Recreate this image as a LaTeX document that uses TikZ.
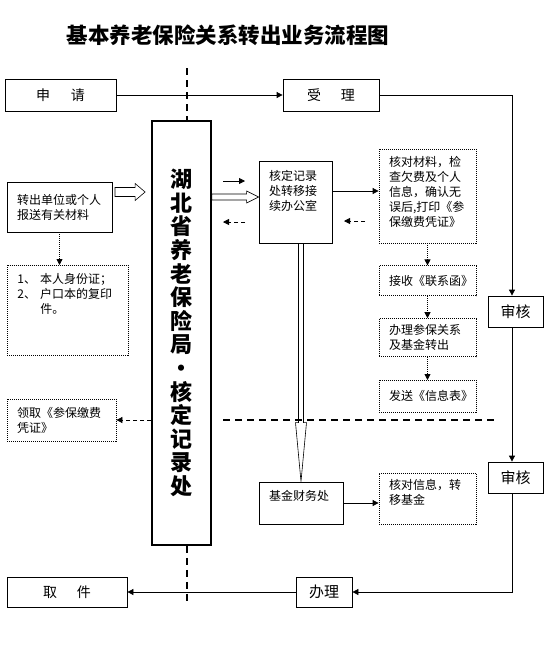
\documentclass[tikz,border=0pt]{standalone}
\usepackage{fontspec}
\setmainfont{Noto Sans CJK SC}
\usetikzlibrary{arrows.meta, positioning, calc}

% hollow block arrows: tail, tip, shaft half width, head half width, head length
\newcommand{\hollowright}[5]{%
  \draw[hollow] ($#1+(0,#3)$) -- ($#2+(-#5,#3)$) -- ($#2+(-#5,#4)$) -- #2
    -- ($#2+(-#5,-#4)$) -- ($#2+(-#5,-#3)$) -- ($#1+(0,-#3)$) -- cycle;}
\newcommand{\hollowdown}[5]{%
  \draw[hollow] ($#1+(#3,0)$) -- ($#2+(#3,-#5)$) -- ($#2+(#4,-#5)$) -- #2
    -- ($#2+(-#4,-#5)$) -- ($#2+(-#3,-#5)$) -- ($#1+(-#3,0)$) -- cycle;}

\begin{document}
\begin{tikzpicture}[x=1pt, y=-1pt,
        box/.style={draw, line width=0.8pt, font=\fontsize{12}{15}\selectfont, align=left, inner xsep=10pt, inner ysep=0pt},
        dotbox/.style={box, dash pattern=on 1pt off 1pt},
        tag/.style={draw, line width=0.8pt, align=center, inner sep=0pt},
        arrow/.style={-{Triangle[length=6pt, width=6pt]}, line width=0.8pt},
        dasharrow/.style={arrow, dash pattern=on 4pt off 3pt},
        dotarrow/.style={arrow, dash pattern=on 1pt off 1pt},
        sep/.style={line width=1.8pt, dash pattern=on 7pt off 5pt},
        hollow/.style={line width=0.6pt}
    ]
    \useasboundingbox (0,0) rectangle (553,649);

    \node[font=\fontsize{21.5}{25}\selectfont\bfseries] (title) at (228,35) {基本养老保险关系转出业务流程图};

    % top and bottom row
    \node[tag, minimum width=111pt, minimum height=32pt, font=\fontsize{14}{16}\selectfont] (apply) at (60.5,95) {申\hspace{1.5em}请};
    \node[tag, minimum width=96pt, minimum height=32pt, font=\fontsize{14}{16}\selectfont] (accept) at (331,95) {受\hspace{1.4em}理};
    \node[tag, minimum width=120pt, minimum height=30pt, font=\fontsize{14}{16}\selectfont] (pickup) at (67,592) {取\hspace{1.4em}件};
    \node[tag, minimum width=56pt, minimum height=30pt, font=\fontsize{15}{17}\selectfont] (handle) at (324,592) {办理};

    % bureau
    \node[draw, line width=1.8pt, minimum width=59pt, minimum height=424pt, align=center, inner sep=0pt,
        font=\fontsize{22}{23.6}\selectfont\bfseries] (bureau) at (181.5,333)
        {湖\\北\\省\\养\\老\\保\\险\\局\\·\\核\\定\\记\\录\\处};

    % left column
    \node[box, text width=85pt, minimum height=50pt] (submit) at (59.5,207) {转出单位或个人\\报送有关材料};
    \node[dotbox, anchor=north west, inner ysep=8pt] (papers) at (7,265)
        {\parbox[c][74pt][t]{101pt}{1、\hspace{4pt}本人身份证；\\2、\hspace{4pt}户口本的复印\\\hspace*{23pt}件。}};
    \node[dotbox, text width=89pt, minimum height=42pt] (receipt) at (61.5,420) {领取《参保缴费\\凭证》};

    % middle column
    \node[box, inner ysep=9pt] (office) at (295.5,202) {\parbox[c][64pt][t]{53pt}{核定记录\\处转移接\\续办公室}};
    \node[box, inner ysep=8pt] (finance) at (301,503) {\parbox[c][26pt][t]{64pt}{基金财务处}};

    % right column
    \node[dotbox, inner ysep=7pt] (check) at (427.5,196)
        {\parbox[c][80pt][t]{77pt}{核对材料，检\\查欠费及个人\\信息，确认无\\误后,打印《参\\保缴费凭证》}};
    \node[dotbox, text width=77pt, minimum height=30pt, below=22pt of check] (letter) {接收《联系函》};
    \node[dotbox, text width=77pt, minimum height=38pt, below=22pt of letter] (transfer) {办理参保关系\\及基金转出};
    \node[dotbox, text width=77pt, minimum height=32pt, below=23pt of transfer] (sendout) {发送《信息表》};
    \node[dotbox, inner ysep=6pt] (verify) at (427.5,498.5) {\parbox[c][39pt][t]{77pt}{核对信息，转\\移基金}};

    \node[tag, minimum width=55pt, minimum height=31pt, font=\fontsize{15}{17}\selectfont] (audit1) at (515.5,311.5) {审核};
    \node[tag, minimum width=55pt, minimum height=31pt, font=\fontsize{15}{17}\selectfont] (audit2) at (515.5,477.5) {审核};

    % main loop
    \coordinate (rline) at (512,0);
    \draw[arrow] (apply) -- (accept);
    \draw[arrow] (accept.east) -| (rline |- audit1.north);
    \draw[arrow] (rline |- audit1.south) -- (rline |- audit2.north);
    \draw[arrow] (rline |- audit2.south) |- (handle.east);
    \draw[arrow] (handle) -- (pickup);

    % inner flow
    \draw[dotarrow] (submit.south) -- (submit.south |- papers.north);
    \draw[dasharrow] (bureau.west |- receipt.east) -- (receipt.east);
    \coordinate (o1) at ($(office.east)+(0,-11)$);
    \draw[arrow] (o1) -- (o1 -| check.west);
    \draw[dotarrow] (check) -- (letter);
    \draw[dotarrow] (letter) -- (transfer);
    \draw[dotarrow] (transfer) -- (sendout);
    \draw[arrow] (finance.east) -- (finance.east -| verify.west);

    \coordinate (fwdA) at (223,181);
    \coordinate (fwdB) at (245,181);
    \draw[arrow] (fwdA) -- (fwdB);
    \coordinate (backA) at (245,222);
    \coordinate (backB) at (223,222);
    \draw[dasharrow] (backA) -- (backB);
    \coordinate (backC) at (365,221);
    \coordinate (backD) at (344,221);
    \draw[dasharrow] (backC) -- (backD);

    % hollow arrows
    \coordinate (h1tail) at (115,192);
    \coordinate (h1tip) at ($(h1tail -| bureau.west)+(-6,0)$);
    \hollowright{(h1tail)}{(h1tip)}{4.5}{8.5}{10}
    \coordinate (h2y) at (0,197);
    \coordinate (h2tail) at (bureau.east |- h2y);
    \coordinate (h2tip) at (office.west |- h2y);
    \hollowright{(h2tail)}{(h2tip)}{3}{6}{12}
    \coordinate (h3tail) at (finance.north |- office.south);
    \hollowdown{(h3tail)}{(finance.north)}{2.5}{5.5}{59}

    % separators
    \coordinate (axistop) at (187,68);
    \coordinate (axisend) at (187,605);
    \draw[sep] (axistop) -- (axistop |- bureau.north);
    \draw[sep] (axisend |- bureau.south) -- (axisend);
    \coordinate (sepL) at (223,420);
    \coordinate (sepR) at (497,420);
    \draw[sep] (sepL) -- (sepR);
\end{tikzpicture}
\end{document}
